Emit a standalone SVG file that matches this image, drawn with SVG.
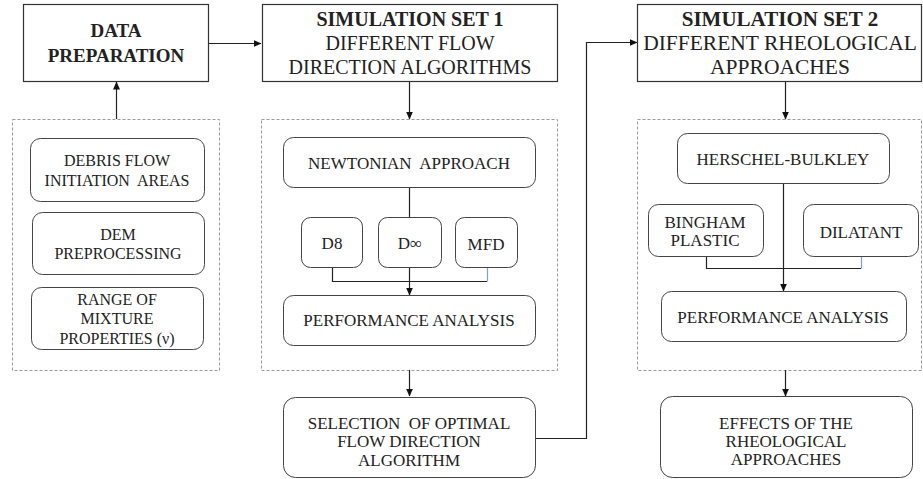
<svg xmlns="http://www.w3.org/2000/svg" width="923" height="479" viewBox="0 0 923 479">
  <defs>
    <marker id="arrow" viewBox="0 0 8 8" refX="7.5" refY="4" markerWidth="8" markerHeight="8" markerUnits="userSpaceOnUse" orient="auto">
      <path d="M0,0.5 L8,4 L0,7.5 Z" fill="#111"/>
    </marker>
  </defs>
  <style>
    text { font-family: 'Liberation Serif', 'DejaVu Serif', 'Times New Roman', Times, serif; fill: #222; text-anchor: middle; }
    .head { fill: #fff; stroke: #333; stroke-width: 1.2; }
    .box { fill: #fff; stroke: #444; stroke-width: 1; }
    .group { fill: none; stroke: #9a9a9a; stroke-width: 1; stroke-dasharray: 3 2; }
    .line { fill: none; stroke: #222; stroke-width: 1.2; }
    .blue { fill: none; stroke: #7f9fd8; stroke-width: 1.2; }
    .t-bold { font-weight: bold; font-size: 20px; }
    .t-big { font-size: 20px; }
    .t16 { font-size: 16px; }
    .t17 { font-size: 17px; }
  </style>

  <rect width="923" height="479" fill="#fff"/>

  <!-- dashed grouping frames -->
  <rect id="group-inputs" class="group" x="12.5" y="119.5" width="207" height="251"/>
  <rect id="group-set1" class="group" x="261.5" y="119.5" width="296" height="251"/>
  <rect id="group-set2" class="group" x="637.5" y="119.5" width="284" height="251"/>

  <!-- connectors -->
  <g id="connectors">
    <path class="line" d="M116.5,119 V82" marker-end="url(#arrow)"/>
    <path class="line" d="M208,43.5 H261" marker-end="url(#arrow)"/>
    <path class="line" d="M409.5,82 V119" marker-end="url(#arrow)"/>
    <path class="line" d="M785.5,82 V119" marker-end="url(#arrow)"/>
    <!-- set 1 internals -->
    <path class="line" d="M409.5,187 V217"/>
    <path class="line" d="M409.5,268 V295" marker-end="url(#arrow)"/>
    <path class="line" d="M332.5,267 V281.5 H487"/>
    <path class="blue" d="M487.5,268 V281.5"/>
    <path class="line" d="M409.5,370 V396" marker-end="url(#arrow)"/>
    <!-- set 1 result to set 2 -->
    <path class="line" d="M535,438.5 H586.5 V42.5 H637" marker-end="url(#arrow)"/>
    <!-- set 2 internals -->
    <path class="line" d="M783.5,183 V291" marker-end="url(#arrow)"/>
    <path class="line" d="M706.5,256 V268.5 H861"/>
    <path class="blue" d="M861.5,256 V268.5"/>
    <path class="line" d="M785.5,370 V396" marker-end="url(#arrow)"/>
  </g>

  <g font-family="'Liberation Serif', 'DejaVu Serif', serif">
  <!-- header nodes -->
  <g id="data-preparation">
    <rect class="head" x="23.5" y="4.5" width="185" height="77"/>
    <text class="t-bold" x="116" y="37" style="font-size:19px">DATA</text>
    <text class="t-bold" x="116" y="62" style="font-size:19px">PREPARATION</text>
  </g>
  <g id="simulation-set-1">
    <rect class="head" x="262.5" y="4.5" width="295" height="77"/>
    <text class="t-bold" x="410" y="26">SIMULATION SET 1</text>
    <text class="t-big" x="410" y="50">DIFFERENT FLOW</text>
    <text class="t-big" x="410" y="74">DIRECTION ALGORITHMS</text>
  </g>
  <g id="simulation-set-2">
    <rect class="head" x="637.5" y="4.5" width="284" height="77"/>
    <text class="t-bold" x="780" y="26" style="font-size:21px">SIMULATION SET 2</text>
    <text class="t-big" x="780" y="50" style="font-size:21.5px">DIFFERENT RHEOLOGICAL</text>
    <text class="t-big" x="780" y="74" style="font-size:21.5px">APPROACHES</text>
  </g>

  <!-- data preparation inputs -->
  <g id="debris-flow-initiation">
    <rect class="box" x="30.5" y="138.5" width="174" height="63" rx="10"/>
    <text class="t16" x="117" y="166">DEBRIS FLOW</text>
    <text class="t16" x="117" y="186" xml:space="preserve">INITIATION  AREAS</text>
  </g>
  <g id="dem-preprocessing">
    <rect class="box" x="32.5" y="212.5" width="172" height="62" rx="10"/>
    <text class="t16" x="118" y="240">DEM</text>
    <text class="t16" x="118" y="259">PREPROCESSING</text>
  </g>
  <g id="mixture-properties">
    <rect class="box" x="31.5" y="287.5" width="172" height="62" rx="10"/>
    <text class="t16" x="117" y="305">RANGE OF</text>
    <text class="t16" x="117" y="324">MIXTURE</text>
    <text class="t16" x="117" y="344">PROPERTIES (ν)</text>
  </g>

  <!-- simulation set 1 -->
  <g id="newtonian-approach">
    <rect class="box" x="283.5" y="137.5" width="252" height="50" rx="10"/>
    <text class="t17" x="409" y="169" xml:space="preserve">NEWTONIAN  APPROACH</text>
  </g>
  <g id="d8">
    <rect class="box" x="301.5" y="217.5" width="61" height="50" rx="9"/>
    <text class="t17" x="332" y="249">D8</text>
  </g>
  <g id="dinf">
    <rect class="box" x="378.5" y="217.5" width="63" height="50" rx="9"/>
    <text class="t17" x="410" y="249">D∞</text>
  </g>
  <g id="mfd">
    <rect class="box" x="455.5" y="217.5" width="62" height="50" rx="9"/>
    <text class="t17" x="486" y="250">MFD</text>
  </g>
  <g id="performance-analysis-1">
    <rect class="box" x="283.5" y="295.5" width="252" height="50" rx="10"/>
    <text class="t17" x="409" y="326">PERFORMANCE ANALYSIS</text>
  </g>
  <g id="optimal-algorithm">
    <rect class="box" x="283.5" y="397.5" width="252" height="80" rx="12"/>
    <text class="t17" x="409" y="429" xml:space="preserve">SELECTION  OF OPTIMAL</text>
    <text class="t17" x="409" y="447">FLOW DIRECTION</text>
    <text class="t17" x="409" y="466">ALGORITHM</text>
  </g>

  <!-- simulation set 2 -->
  <g id="herschel-bulkley">
    <rect class="box" x="677.5" y="133.5" width="212" height="50" rx="10"/>
    <text class="t17" x="783" y="165">HERSCHEL-BULKLEY</text>
  </g>
  <g id="bingham-plastic">
    <rect class="box" x="648.5" y="204.5" width="115" height="52" rx="10"/>
    <text class="t17" x="705" y="228">BINGHAM</text>
    <text class="t17" x="705" y="246">PLASTIC</text>
  </g>
  <g id="dilatant">
    <rect class="box" x="803.5" y="204.5" width="115" height="52" rx="10"/>
    <text class="t17" x="861" y="238">DILATANT</text>
  </g>
  <g id="performance-analysis-2">
    <rect class="box" x="661.5" y="291.5" width="245" height="50" rx="10"/>
    <text class="t17" x="783" y="323">PERFORMANCE ANALYSIS</text>
  </g>
  <g id="rheology-effects">
    <rect class="box" x="660.5" y="396.5" width="252" height="81" rx="12"/>
    <text class="t17" x="786" y="429">EFFECTS OF THE</text>
    <text class="t17" x="786" y="447">RHEOLOGICAL</text>
    <text class="t17" x="786" y="465">APPROACHES</text>
  </g>
  </g>
</svg>
